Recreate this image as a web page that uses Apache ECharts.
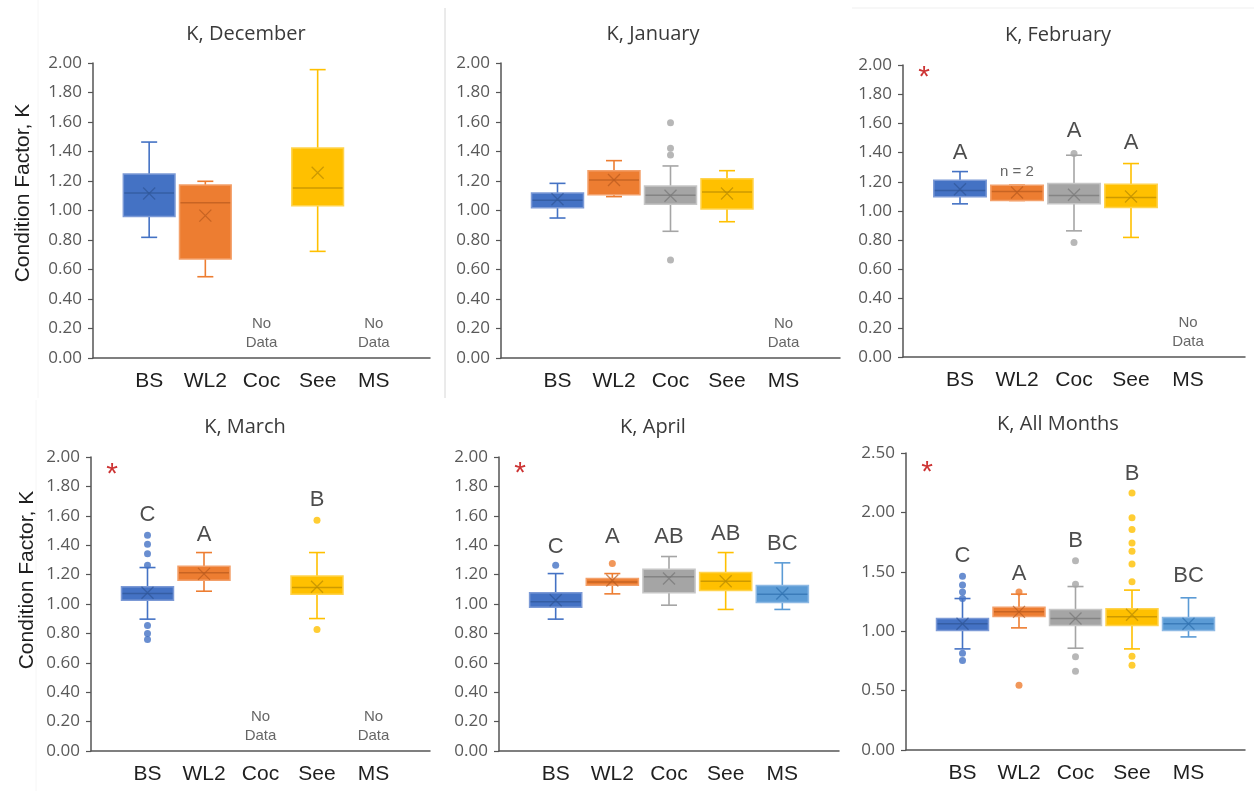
<!DOCTYPE html>
<html><head><meta charset="utf-8">
<script src="https://cdn.jsdelivr.net/npm/echarts@6/dist/echarts.min.js"></script>
<style>html,body{margin:0;padding:0;background:#fff}#c{width:1254px;height:791px}</style>
</head><body><div id="c"></div><script>
// ---------- DATA ----------
const categories = ['BS', 'WL2', 'Coc', 'See', 'MS'];
const panelTitles = ['K, December', 'K, January', 'K, February', 'K, March', 'K, April', 'K, All Months'];
const yMaxes = [2, 2, 2, 2, 2, 2.5];
const yIntervals = [0.2, 0.2, 0.2, 0.2, 0.2, 0.5];

// box stats per category: [min, Q1, median, Q3, max] (null = no data)
const decBoxes = [[0.818, 0.960, 1.119, 1.247, 1.464], [0.551, 0.671, 1.053, 1.173, 1.198], null, [0.723, 1.033, 1.153, 1.424, 1.955], null];
const janBoxes = [[0.949, 1.019, 1.07, 1.118, 1.184], [1.094, 1.107, 1.207, 1.270, 1.338], [0.859, 1.042, 1.103, 1.166, 1.302], [0.924, 1.010, 1.125, 1.216, 1.270], null];
const febBoxes = [[1.049, 1.097, 1.140, 1.211, 1.270], [1.072, 1.072, 1.133, 1.177, 1.177], [0.864, 1.049, 1.106, 1.188, 1.382], [0.819, 1.024, 1.092, 1.184, 1.325], null];
const marBoxes = [[0.897, 1.026, 1.071, 1.117, 1.248], [1.087, 1.162, 1.212, 1.257, 1.350], null, [0.901, 1.067, 1.112, 1.191, 1.350], null];
const aprBoxes = [[0.897, 0.978, 1.015, 1.076, 1.207], [1.069, 1.128, 1.150, 1.173, 1.207], [0.992, 1.076, 1.185, 1.237, 1.323], [0.963, 1.092, 1.155, 1.214, 1.350], [0.963, 1.010, 1.067, 1.126, 1.280]];
const allBoxes = [[0.851, 1.006, 1.062, 1.107, 1.275], [1.028, 1.124, 1.163, 1.202, 1.312], [0.857, 1.048, 1.107, 1.183, 1.376], [0.851, 1.048, 1.121, 1.188, 1.346], [0.952, 1.006, 1.062, 1.115, 1.281]];

// means per category
const decMeans = [1.115, 0.965, null, 1.256, null];
const janMeans = [1.076, 1.207, 1.100, 1.115, null];
const febMeans = [1.149, 1.127, 1.111, 1.099, null];
const marMeans = [1.076, 1.205, null, 1.117, null];
const aprMeans = [1.026, 1.160, 1.174, 1.155, 1.071];
const allMeans = [1.062, 1.163, 1.107, 1.138, 1.062];

// outliers per category
const decOutliers = [[], [], [], [], []];
const janOutliers = [[], [], [1.595, 1.422, 1.376, 0.664], [], []];
const febOutliers = [[], [], [1.393, 0.784], [], []];
const marOutliers = [[1.468, 1.407, 1.341, 1.264, 0.854, 0.800, 0.759], [], [], [1.570, 0.827], []];
const aprOutliers = [[1.264], [1.275], [], [], []];
const allOutliers = [[1.463, 1.388, 1.331, 1.275, 0.815, 0.753], [1.331, 0.545], [1.593, 1.396, 0.784, 0.663], [2.163, 1.955, 1.857, 1.742, 1.674, 1.565, 1.416, 0.789, 0.713], []];

// significance letters and the value at which they sit
const decLetters = ['', '', '', '', ''];
const janLetters = ['', '', '', '', ''];
const febLetters = ['A', '', 'A', 'A', ''];
const marLetters = ['C', 'A', '', 'B', ''];
const aprLetters = ['C', 'A', 'AB', 'AB', 'BC'];
const allLetters = ['C', 'A', 'B', 'B', 'BC'];
const decLetterY = [0, 0, 0, 0, 0];
const janLetterY = [0, 0, 0, 0, 0];
const febLetterY = [1.40, 0, 1.551, 1.464, 0];
const marLetterY = [1.604, 1.468, 0, 1.706, 0];
const aprLetterY = [1.388, 1.457, 1.457, 1.480, 1.411];
const allLetterY = [1.635, 1.483, 1.756, 2.326, 1.466];

// asterisk values (null = none)
const asteriskY = [null, null, 1.95, 1.914, 1.92, 2.38];
const noDataY = 0.17;
const febNote = {category: 'WL2', text: 'n = 2', y: 1.267};

// ---------- STYLE ----------
const colors = ['#4472C4', '#ED7D31', '#A5A5A5', '#FFC000', '#5B9BD5'];
const lightColors = ['#7C9AD6', '#F3A06A', '#C6C6C6', '#FFD34D', '#8DB9E4'];
const darkColors = ['#2F5597', '#B85A1E', '#767676', '#B88A00', '#2E6FAE'];
const panels = [
  {boxes: decBoxes, means: decMeans, outliers: decOutliers, letters: decLetters, letterY: decLetterY},
  {boxes: janBoxes, means: janMeans, outliers: janOutliers, letters: janLetters, letterY: janLetterY},
  {boxes: febBoxes, means: febMeans, outliers: febOutliers, letters: febLetters, letterY: febLetterY},
  {boxes: marBoxes, means: marMeans, outliers: marOutliers, letters: marLetters, letterY: marLetterY},
  {boxes: aprBoxes, means: aprMeans, outliers: aprOutliers, letters: aprLetters, letterY: aprLetterY},
  {boxes: allBoxes, means: allMeans, outliers: allOutliers, letters: allLetters, letterY: allLetterY}
];
const gridRects = [
  {left: 93, top: 63, width: 337, height: 295},
  {left: 501, top: 63, width: 339, height: 295},
  {left: 903, top: 65, width: 342, height: 292},
  {left: 91, top: 457, width: 339, height: 294},
  {left: 499, top: 457, width: 340, height: 294},
  {left: 906, top: 453, width: 339, height: 297}
];
const titlePos = [[241, 19], [648, 19], [1053, 20], [240, 412], [648, 412], [1053, 409]];

const axisCats = [' '].concat(categories, ['  ']);
const tickFont = 'Open Sans';
const catFont = 'Liberation Sans';
const X_PATH = 'path://M0,0L10,10M10,0L0,10';

function renderBox(params, api) {
  const xi = api.value(0);
  const k = xi - 1;
  const band = api.size([1, 0])[0];
  const half = band * 0.46;
  const cap = 8;
  const pMin = api.coord([xi, api.value(1)]);
  const pQ1 = api.coord([xi, api.value(2)]);
  const pMed = api.coord([xi, api.value(3)]);
  const pQ3 = api.coord([xi, api.value(4)]);
  const pMax = api.coord([xi, api.value(5)]);
  const cx = pMed[0];
  const wStyle = {stroke: colors[k], lineWidth: 1.6};
  return {
    type: 'group',
    children: [
      {type: 'line', shape: {x1: cx, y1: pQ3[1], x2: cx, y2: pMax[1]}, style: wStyle},
      {type: 'line', shape: {x1: cx, y1: pQ1[1], x2: cx, y2: pMin[1]}, style: wStyle},
      {type: 'line', shape: {x1: cx - cap, y1: pMax[1], x2: cx + cap, y2: pMax[1]}, style: wStyle},
      {type: 'line', shape: {x1: cx - cap, y1: pMin[1], x2: cx + cap, y2: pMin[1]}, style: wStyle},
      {type: 'rect', shape: {x: cx - half, y: pQ3[1], width: half * 2, height: Math.max(pQ1[1] - pQ3[1], 1)},
        style: {fill: colors[k], stroke: lightColors[k], lineWidth: 1.5}},
      {type: 'line', shape: {x1: cx - half + 1, y1: pMed[1], x2: cx + half - 1, y2: pMed[1]},
        style: {stroke: darkColors[k], lineWidth: 1.5, opacity: 0.7}}
    ]
  };
}

const grids = [], xAxes = [], yAxes = [], series = [], titles = [];
panels.forEach((p, i) => {
  grids.push(Object.assign({containLabel: false}, gridRects[i]));
  titles.push({
    text: panelTitles[i], left: titlePos[i][0], top: titlePos[i][1], textAlign: 'center',
    textStyle: {fontSize: 20, fontWeight: 'normal', color: '#3a3a3a', fontFamily: tickFont}
  });
  xAxes.push({
    type: 'category', gridIndex: i, data: axisCats, boundaryGap: false,
    axisLine: {lineStyle: {color: '#555', width: 1.5}},
    axisTick: {show: false},
    axisLabel: {interval: 0, fontSize: 21, color: '#1f1f1f', fontFamily: catFont, margin: 13},
    splitLine: {show: false}
  });
  yAxes.push({
    type: 'value', gridIndex: i, min: 0, max: yMaxes[i], interval: yIntervals[i],
    axisLine: {show: true, lineStyle: {color: '#555', width: 1.5}},
    axisTick: {show: true, length: 5, lineStyle: {color: '#555', width: 1.2}},
    axisLabel: {fontSize: 17, color: '#595959', fontFamily: tickFont, margin: 11,
      formatter: v => v.toFixed(2)},
    splitLine: {show: false}
  });
  const boxData = [], meanData = [], outData = [], letterData = [], noData = [];
  categories.forEach((c, k) => {
    const xi = k + 1;
    const b = p.boxes[k];
    if (b) {
      boxData.push([xi].concat(b));
    } else {
      noData.push([xi, noDataY]);
    }
    if (p.means[k] != null) {
      meanData.push({value: [xi, p.means[k]], itemStyle: {borderColor: darkColors[k]}});
    }
    p.outliers[k].forEach(v => outData.push({value: [xi, v], itemStyle: {color: colors[k]}}));
    if (p.letters[k]) letterData.push({value: [xi, p.letterY[k]], name: p.letters[k]});
  });
  series.push({
    type: 'custom', xAxisIndex: i, yAxisIndex: i, data: boxData,
    encode: {x: 0, y: [1, 2, 3, 4, 5]},
    renderItem: renderBox, z: 2
  });
  series.push({
    type: 'scatter', xAxisIndex: i, yAxisIndex: i, data: meanData,
    symbol: X_PATH, symbolSize: 12,
    itemStyle: {color: 'none', borderWidth: 1.3, opacity: 0.7}, z: 4
  });
  series.push({
    type: 'scatter', xAxisIndex: i, yAxisIndex: i, data: outData,
    symbol: 'circle', symbolSize: 7, z: 4
  });
  series.push({
    type: 'scatter', xAxisIndex: i, yAxisIndex: i, data: letterData,
    symbolSize: 0, z: 5,
    label: {show: true, position: 'inside', formatter: d => d.name, fontSize: 22,
      color: '#1f1f1f', fontFamily: catFont}
  });
  series.push({
    type: 'scatter', xAxisIndex: i, yAxisIndex: i, data: noData,
    symbolSize: 0, z: 5,
    label: {show: true, position: 'inside', formatter: 'No\nData', fontSize: 15,
      lineHeight: 19, align: 'center', color: '#404040', fontFamily: catFont}
  });
  if (asteriskY[i] != null) {
    series.push({
      type: 'scatter', xAxisIndex: i, yAxisIndex: i, data: [[0, asteriskY[i]]],
      symbolSize: 0, z: 5,
      label: {show: true, position: 'inside', formatter: '*', fontSize: 30,
        offset: [21, 5], color: '#C00000', fontFamily: catFont}
    });
  }
  if (i === 2) {
    series.push({
      type: 'scatter', xAxisIndex: i, yAxisIndex: i,
      data: [[categories.indexOf(febNote.category) + 1, febNote.y]],
      symbolSize: 0, z: 5,
      label: {show: true, position: 'inside', formatter: febNote.text, fontSize: 15,
        color: '#404040', fontFamily: catFont}
    });
  }
});

const yName = 'Condition Factor, K';
const chart = echarts.init(document.getElementById('c'), null, {renderer: 'canvas'});
chart.setOption({
  animation: false,
  backgroundColor: '#fff',
  title: titles,
  grid: grids,
  xAxis: xAxes,
  yAxis: yAxes,
  series: series,
  graphic: [
    {type: 'text', x: 23, y: 193, rotation: Math.PI / 2,
      style: {text: yName, align: 'center', verticalAlign: 'middle', fontSize: 21, fill: '#1f1f1f', fontFamily: catFont}},
    {type: 'text', x: 27, y: 580, rotation: Math.PI / 2,
      style: {text: yName, align: 'center', verticalAlign: 'middle', fontSize: 21, fill: '#1f1f1f', fontFamily: catFont}},
    {type: 'line', shape: {x1: 445, y1: 8, x2: 445, y2: 398}, style: {stroke: '#d6d6d6', lineWidth: 1}},
    {type: 'line', shape: {x1: 852, y1: 8, x2: 1254, y2: 8}, style: {stroke: '#efefef', lineWidth: 1}},
    {type: 'line', shape: {x1: 38, y1: 0, x2: 38, y2: 398}, style: {stroke: '#f6f6f6', lineWidth: 1}},
    {type: 'line', shape: {x1: 36, y1: 400, x2: 36, y2: 791}, style: {stroke: '#f6f6f6', lineWidth: 1}}
  ]
});
</script></body></html>
